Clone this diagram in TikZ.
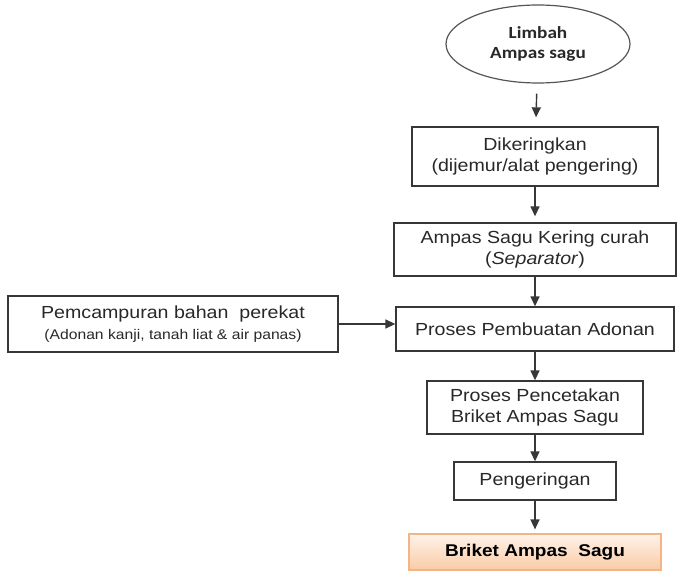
\documentclass[tikz,border=0pt]{standalone}
\usepackage{fontspec}
\setmainfont{Liberation Sans}[FakeStretch=1.12]
\newfontfamily\ellipsefont{Carlito}[FakeStretch=1.13]
\usetikzlibrary{arrows.meta, shapes.geometric}
\definecolor{boxline}{RGB}{55,55,55}
\definecolor{ellline}{RGB}{85,85,85}
\definecolor{textgray}{RGB}{40,40,40}
\definecolor{briketTop}{RGB}{254,243,234}
\definecolor{briketBottom}{RGB}{250,203,165}
\definecolor{briketLine}{RGB}{243,180,135}

\begin{document}
\begin{tikzpicture}[x=1pt,y=-1pt,
  box/.style={draw=boxline, line width=1.3pt, rectangle, align=center, text=textgray,
    inner sep=0pt, font=\fontsize{17.5}{21}\selectfont},
  arr/.style={-{Triangle[length=10pt,width=9pt]}, line width=1.4pt, draw=boxline}]
%\draw[step=50,gray,very thin] (0,0) grid (682,572); %background grid
\useasboundingbox (0,0) rectangle (682,572);

\node[ellipse, draw=ellline, line width=1.2pt, minimum width=184pt, minimum height=78pt,
  align=center, text=textgray, inner sep=0pt,
  font=\ellipsefont\bfseries\fontsize{17}{20}\selectfont] (limbah) at (538,44) {Limbah\\Ampas sagu};
\node[box, minimum width=246pt, minimum height=59pt] (kering) at (535,156.5)
  {Dikeringkan\\(dijemur/alat pengering)};
\node[box, minimum width=282pt, minimum height=53pt] (separator) at (535,249.5)
  {Ampas Sagu Kering curah\\(\textit{Separator})};
\node[box, minimum width=278pt, minimum height=44pt] (adonan) at (535,329)
  {Proses Pembuatan Adonan};
\node[box, minimum width=330pt, minimum height=56pt] (perekat) at (173,324)
  {Pemcampuran bahan\ \ perekat\\{\fontsize{14}{16}\selectfont(Adonan kanji, tanah liat \& air panas)}};
\node[box, minimum width=216pt, minimum height=53pt] (cetak) at (535,407.5)
  {Proses Pencetakan\\Briket Ampas Sagu};
\node[box, minimum width=162pt, minimum height=38pt] (pengeringan) at (535,481)
  {Pengeringan};
\node[box, draw=briketLine, line width=1.2pt, top color=briketTop, bottom color=briketBottom,
  minimum width=252pt, minimum height=36pt, font=\bfseries\fontsize{17}{20}\selectfont,
  text=black] (briket) at (535,552) {Briket Ampas\ \ Sagu};

\draw[arr, shorten <=10pt, shorten >=9pt] (limbah) -- (kering);
\draw[arr, shorten >=6pt] (kering) -- (separator);
\draw[arr] (separator) -- (adonan);
\draw[arr] (perekat.east) -- (perekat.east -| adonan.west);
\draw[arr] (adonan) -- (cetak);
\draw[arr] (cetak) -- (pengeringan);
\draw[arr, shorten >=4pt] (pengeringan) -- (briket);
\end{tikzpicture}
\end{document}
